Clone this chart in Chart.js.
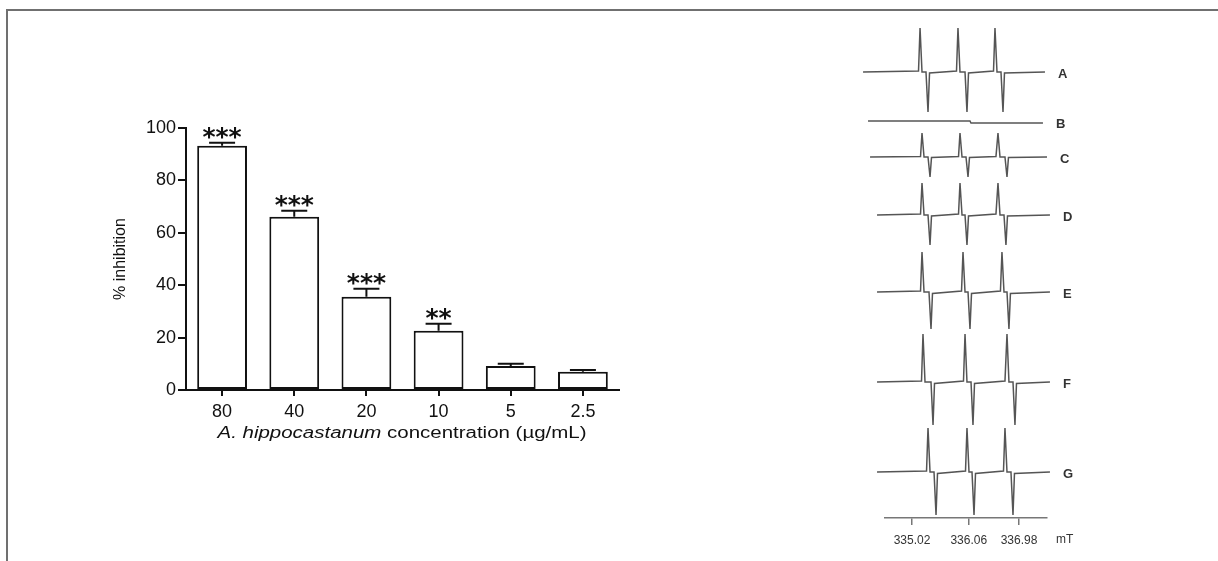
<!DOCTYPE html>
<html>
<head>
<meta charset="utf-8">
<script src="https://cdn.jsdelivr.net/npm/chart.js@4.4.1/dist/chart.umd.min.js"></script>
<style>
  html, body { margin: 0; padding: 0; background: #fff; }
  #page { position: relative; width: 1218px; height: 561px; overflow: hidden; background: #fff; }
  #frame { position: absolute; left: 6px; top: 9px; width: 1212px; height: 552px;
           border-top: 2px solid #707070; border-left: 2px solid #707070; box-sizing: border-box; }
  #barWrap { position: absolute; left: 0; top: 0; width: 720px; height: 561px; }
  #eprWrap { position: absolute; left: 840px; top: 0; width: 260px; height: 561px; }
  canvas { display: block; }
</style>
</head>
<body>
<div id="page">
  <div id="frame"></div>
  <div id="barWrap"><canvas id="bar" width="720" height="561"></canvas></div>
  <div id="eprWrap"><canvas id="epr" width="260" height="561"></canvas></div>
</div>
<script>
// ---- Inhibition bar chart data ----
const concentrations = ['80', '40', '20', '10', '5', '2.5'];
const inhibition = [93.2, 66.1, 35.6, 22.6, 9.2, 7.0];
const inhibitionSem = [1.2, 2.3, 3.0, 2.7, 0.8, 0.6];
const significance = ['***', '***', '***', '**', '', ''];
const inhibitionTicks = [0, 20, 40, 60, 80, 100];

// ---- EPR spectra data (field in mT, signal in a.u.) ----
const fieldTicks = [335.02, 336.06, 336.98];
const fieldTickLabels = ['335.02', '336.06', '336.98'];
const traceLabels = ['A', 'B', 'C', 'D', 'E', 'F', 'G'];
const traceOffsets = [446, 396, 361, 303, 226, 136, 46];

const traceA = [[334.123, 0],
  [335.139, 1], [335.167, 44], [335.203, 0], [335.276, 0], [335.313, -40], [335.341, -1],
  [335.835, 1], [335.862, 44], [335.899, 0], [335.991, 0], [336.027, -40], [336.055, -1],
  [336.513, 1], [336.540, 44], [336.577, 0], [336.650, 0], [336.687, -40], [336.714, -1],
  [337.456, 0]];
const traceB = [[334.214, 1], [336.082, 1], [336.100, -1], [337.419, -1]];
const traceC = [[334.251, 0],
  [335.176, 0.5], [335.203, 24], [335.240, 0], [335.313, 0], [335.350, -20], [335.377, -0.5],
  [335.872, 0.5], [335.899, 24], [335.936, 0], [336.009, 0], [336.046, -20], [336.073, -0.5],
  [336.558, 0.5], [336.595, 24], [336.632, 0], [336.723, 0], [336.760, -20], [336.787, -0.5],
  [337.493, 0]];
const traceD = [[334.379, 0],
  [335.176, 1], [335.203, 32], [335.240, 0], [335.313, 0], [335.350, -30], [335.377, -1],
  [335.872, 1], [335.899, 32], [335.936, 0], [335.991, 0], [336.027, -30], [336.055, -1],
  [336.558, 1], [336.595, 32], [336.632, 0], [336.705, 0], [336.741, -30], [336.769, -1],
  [337.547, 0]];
const traceE = [[334.379, 0],
  [335.176, 1], [335.203, 40], [335.240, 0], [335.331, 0], [335.368, -37], [335.395, -1.5],
  [335.927, 1], [335.954, 40], [335.991, 0], [336.046, 0], [336.082, -37], [336.110, -1.5],
  [336.640, 1], [336.668, 40], [336.705, 0], [336.760, 0], [336.796, -37], [336.823, -1.5],
  [337.547, 0]];
const traceF = [[334.379, 0],
  [335.194, 1], [335.221, 48], [335.258, 0], [335.368, 0], [335.405, -43], [335.432, -1.5],
  [335.963, 1], [335.991, 48], [336.027, 0], [336.101, 0], [336.137, -43], [336.165, -1.5],
  [336.723, 1], [336.760, 48], [336.796, 0], [336.870, 0], [336.906, -43], [336.934, -1.5],
  [337.547, 0]];
const traceG = [[334.379, 0],
  [335.286, 1], [335.313, 44], [335.350, 0], [335.423, 0], [335.460, -43], [335.487, -1.5],
  [336.000, 1], [336.027, 44], [336.064, 0], [336.119, 0], [336.156, -43], [336.183, -1.5],
  [336.696, 1], [336.723, 44], [336.760, 0], [336.833, 0], [336.870, -43], [336.897, -1.5],
  [337.547, 0]];
const traces = [traceA, traceB, traceC, traceD, traceE, traceF, traceG];

const SANS = '"Liberation Sans", Arial, sans-serif';

// Error bars, significance marks and axis titles for the bar chart
const barDecor = {
  id: 'barDecor',
  afterDatasetsDraw(chart) {
    const { ctx, scales: { y }, chartArea } = chart;
    const meta = chart.getDatasetMeta(0);
    ctx.save();
    ctx.strokeStyle = '#111';
    ctx.fillStyle = '#111';
    ctx.lineWidth = 2;
    meta.data.forEach((bar, i) => {
      const base = y.getPixelForValue(inhibition[i]);
      const top = y.getPixelForValue(inhibition[i] + inhibitionSem[i]);
      ctx.beginPath();
      ctx.moveTo(bar.x, base);
      ctx.lineTo(bar.x, top);
      ctx.moveTo(bar.x - 13, top);
      ctx.lineTo(bar.x + 13, top);
      ctx.stroke();
      if (significance[i]) {
        ctx.font = 'bold 25px "DejaVu Sans", sans-serif';
        ctx.textAlign = 'center';
        ctx.textBaseline = 'alphabetic';
        const m = ctx.measureText(significance[i]);
        const cy = top - 10;
        ctx.fillText(significance[i], bar.x, cy + (m.actualBoundingBoxAscent - m.actualBoundingBoxDescent) / 2);
      }
    });

    // y-axis title
    ctx.save();
    ctx.translate(121, (chartArea.top + chartArea.bottom) / 2);
    ctx.rotate(-Math.PI / 2);
    ctx.font = '16px ' + SANS;
    ctx.textAlign = 'center';
    ctx.textBaseline = 'middle';
    ctx.fillText('% inhibition', 0, 0);
    ctx.restore();

    // x-axis title: italic species name followed by upright text
    const part1 = 'A. hippocastanum';
    const part2 = ' concentration (µg/mL)';
    ctx.font = 'italic 16px ' + SANS;
    const w1 = ctx.measureText(part1).width;
    ctx.font = '16px ' + SANS;
    const w2 = ctx.measureText(part2).width;
    const total = w1 + w2;
    const sx = 369 / total;
    ctx.save();
    ctx.translate(402, chartArea.bottom + 48);
    ctx.scale(sx, 1);
    ctx.textAlign = 'left';
    ctx.textBaseline = 'alphabetic';
    ctx.font = 'italic 16px ' + SANS;
    ctx.fillText(part1, -total / 2, 0);
    ctx.font = '16px ' + SANS;
    ctx.fillText(part2, -total / 2 + w1, 0);
    ctx.restore();
    ctx.restore();
  }
};

new Chart(document.getElementById('bar'), {
  type: 'bar',
  data: {
    labels: concentrations,
    datasets: [{
      data: inhibition,
      backgroundColor: '#ffffff',
      borderColor: '#111',
      borderWidth: 2,
      borderSkipped: false,
      categoryPercentage: 1,
      barPercentage: 0.69
    }]
  },
  options: {
    responsive: false,
    animation: false,
    layout: { padding: { top: 128, right: 101, left: 0, bottom: 0 } },
    plugins: { legend: { display: false }, tooltip: { enabled: false } },
    scales: {
      x: {
        offset: true,
        grid: { offset: false, drawOnChartArea: false, drawTicks: true, tickLength: 6, color: '#111', lineWidth: 2 },
        border: { color: '#111', width: 2 },
        ticks: { color: '#111', font: { family: SANS, size: 18 }, padding: 5, maxRotation: 0 },
        afterFit(scale) { scale.height = 171; }
      },
      y: {
        min: 0,
        max: 100,
        afterBuildTicks(scale) { scale.ticks = inhibitionTicks.map(v => ({ value: v })); },
        grid: { drawOnChartArea: false, drawTicks: true, tickLength: 8, color: '#111', lineWidth: 2 },
        border: { color: '#111', width: 2 },
        ticks: { color: '#111', font: { family: SANS, size: 18 }, padding: 2 },
        afterFit(scale) { scale.width = 186; }
      }
    }
  },
  plugins: [barDecor]
});

// Trace letters and field unit for the spectra panel
const eprDecor = {
  id: 'eprDecor',
  afterDatasetsDraw(chart) {
    const { ctx, scales: { x, y }, chartArea } = chart;
    ctx.save();
    ctx.fillStyle = '#333';
    ctx.textAlign = 'left';
    ctx.textBaseline = 'middle';
    ctx.font = 'bold 13px ' + SANS;
    chart.data.datasets.forEach((ds, i) => {
      const last = ds.data[ds.data.length - 1];
      ctx.fillText(traceLabels[i], x.getPixelForValue(last.x) + 13, y.getPixelForValue(traceOffsets[i]) + 2);
    });
    ctx.font = '12px ' + SANS;
    ctx.fillText('mT', chartArea.right + 9, chartArea.bottom + 22);
    ctx.restore();
  }
};

new Chart(document.getElementById('epr'), {
  type: 'scatter',
  data: {
    datasets: traces.map((t, i) => ({
      label: traceLabels[i],
      data: t.map(([f, s]) => ({ x: f, y: traceOffsets[i] + s })),
      showLine: true,
      pointRadius: 0,
      borderColor: '#555',
      borderWidth: 1.5,
      tension: 0,
      clip: false
    }))
  },
  options: {
    responsive: false,
    animation: false,
    layout: { padding: { top: 18, left: 45, right: 53, bottom: 0 } },
    plugins: { legend: { display: false }, tooltip: { enabled: false } },
    scales: {
      x: {
        type: 'linear',
        min: 334.525,
        max: 337.493,
        afterBuildTicks(scale) { scale.ticks = fieldTicks.map(v => ({ value: v })); },
        grid: { drawOnChartArea: false, drawTicks: true, tickLength: 7, color: '#777', lineWidth: 1.5 },
        border: { color: '#777', width: 1.5 },
        ticks: {
          color: '#333',
          font: { family: SANS, size: 12 },
          padding: 8,
          maxRotation: 0,
          callback(value, index) { return fieldTickLabels[index]; }
        },
        afterFit(scale) { scale.height = 43; }
      },
      y: { display: false, min: 0, max: 500 }
    }
  },
  plugins: [eprDecor]
});
</script>
</body>
</html>
